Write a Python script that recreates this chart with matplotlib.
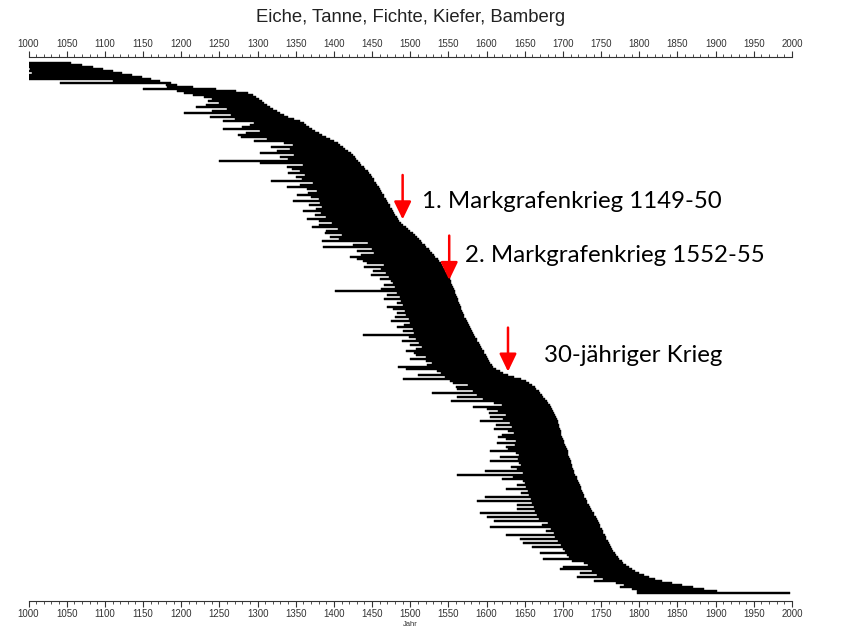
import numpy as np
import matplotlib.pyplot as plt
from matplotlib.ticker import MultipleLocator

plt.rcParams['font.family'] = ['Liberation Sans', 'DejaVu Sans']

# end year of every sample (rows sorted by end year, top to bottom)
ende = [
    1055, 1070, 1085, 1098, 1110, 1122, 1135, 1148, 1160, 1172,
    1186, 1194, 1215, 1245, 1272, 1288, 1294, 1298, 1302, 1306,
    1309, 1312, 1316, 1320, 1325, 1330, 1334, 1340, 1348, 1356,
    1361, 1364, 1368, 1371, 1375, 1380, 1385, 1390, 1395, 1400,
    1405, 1408, 1412, 1415, 1418, 1422, 1425, 1427, 1429, 1432,
    1434, 1436, 1439, 1441, 1444, 1446, 1448, 1450, 1452, 1453,
    1455, 1457, 1459, 1460, 1462, 1463, 1465, 1466, 1468, 1470,
    1471, 1473, 1474, 1476, 1478, 1479, 1480, 1482, 1484, 1485,
    1488, 1491, 1494, 1497, 1500, 1503, 1506, 1509, 1511, 1514,
    1516, 1519, 1521, 1524, 1526, 1529, 1531, 1533, 1536, 1538,
    1540, 1542, 1543, 1545, 1546, 1548, 1549, 1550, 1552, 1553,
    1554, 1555, 1556, 1557, 1558, 1559, 1560, 1561, 1562, 1563,
    1564, 1565, 1566, 1567, 1568, 1569, 1570, 1571, 1573, 1574,
    1575, 1577, 1578, 1580, 1581, 1582, 1584, 1585, 1587, 1588,
    1590, 1591, 1593, 1594, 1596, 1597, 1599, 1600, 1602, 1603,
    1605, 1607, 1609, 1612, 1617, 1622, 1628, 1636, 1645, 1652,
    1656, 1660, 1663, 1665, 1668, 1670, 1672, 1674, 1677, 1679,
    1681, 1683, 1684, 1686, 1687, 1688, 1690, 1691, 1692, 1693,
    1694, 1695, 1695, 1696, 1697, 1697, 1698, 1699, 1700, 1701,
    1702, 1703, 1704, 1705, 1706, 1706, 1707, 1708, 1709, 1710,
    1711, 1712, 1712, 1713, 1714, 1715, 1716, 1718, 1719, 1720,
    1721, 1722, 1723, 1724, 1725, 1726, 1727, 1728, 1730, 1731,
    1732, 1734, 1735, 1737, 1738, 1740, 1741, 1743, 1744, 1746,
    1747, 1748, 1749, 1751, 1752, 1753, 1755, 1756, 1757, 1759,
    1760, 1761, 1763, 1764, 1766, 1768, 1770, 1772, 1774, 1777,
    1779, 1782, 1786, 1790, 1795, 1800, 1806, 1813, 1820, 1830,
    1843, 1856, 1870, 1885, 1902, 1998,
]

# first year of every sample
beginn = [
    1000, 1000, 1000, 1002, 1000, 1005, 1000, 1000, 1000, 1110,
    1041, 1180, 1182, 1150, 1195, 1203, 1215, 1230, 1240, 1235,
    1250, 1232, 1220, 1260, 1240, 1203, 1265, 1238, 1270, 1255,
    1295, 1290, 1280, 1255, 1303, 1285, 1275, 1278, 1312, 1295,
    1335, 1347, 1318, 1342, 1325, 1303, 1348, 1330, 1340, 1250,
    1303, 1360, 1338, 1345, 1355, 1340, 1362, 1350, 1358, 1318,
    1372, 1355, 1338, 1365, 1378, 1366, 1352, 1370, 1380, 1347,
    1382, 1368, 1385, 1376, 1360, 1383, 1375, 1390, 1365, 1380,
    1398, 1380, 1371, 1405, 1390, 1388, 1410, 1395, 1406, 1385,
    1445, 1425, 1386, 1450, 1430, 1452, 1435, 1421, 1430, 1438,
    1443, 1465, 1440, 1462, 1451, 1468, 1448, 1472, 1460, 1475,
    1478, 1465, 1480, 1462, 1401, 1483, 1470, 1486, 1465, 1488,
    1482, 1490, 1470, 1478, 1493, 1482, 1495, 1480, 1498, 1475,
    1500, 1492, 1482, 1503, 1490, 1505, 1438, 1498, 1508, 1489,
    1512, 1500, 1515, 1508, 1495, 1505, 1508, 1520, 1500, 1521,
    1528, 1522, 1484, 1495, 1535, 1540, 1510, 1545, 1491, 1552,
    1556, 1575, 1560, 1561, 1582, 1528, 1588, 1561, 1595, 1554,
    1610, 1620, 1582, 1600, 1615, 1603, 1625, 1605, 1622, 1591,
    1630, 1612, 1633, 1610, 1628, 1636, 1620, 1615, 1625, 1638,
    1614, 1637, 1625, 1628, 1604, 1638, 1642, 1618, 1641, 1604,
    1643, 1645, 1632, 1640, 1598, 1647, 1561, 1635, 1620, 1648,
    1650, 1640, 1652, 1625, 1654, 1645, 1656, 1598, 1658, 1587,
    1660, 1640, 1662, 1640, 1664, 1591, 1666, 1600, 1668, 1610,
    1680, 1672, 1604, 1684, 1678, 1688, 1626, 1690, 1644, 1693,
    1648, 1698, 1660, 1700, 1703, 1670, 1705, 1708, 1674, 1712,
    1728, 1733, 1700, 1696, 1738, 1722, 1744, 1718, 1752, 1740,
    1770, 1780, 1775, 1790, 1797, 1797,
]

# annotations: text, text position (year, row), arrow x, arrow top row, arrow tip row
ereignisse = ['1. Markgrafenkrieg 1149-50', '2. Markgrafenkrieg 1552-55', '30-jähriger Krieg']
text_x = [1515, 1572, 1675]
text_y = [69.5, 96.5, 146]
pfeil_x = [1490, 1551, 1628]
pfeil_oben = [56, 86.3, 132.3]
pfeil_spitze = [78.2, 108.5, 154.3]

beginn = np.array(beginn)
ende = np.array(ende)
zeilen = np.arange(len(ende))

fig = plt.figure(figsize=(8.44, 6.31), dpi=100)
ax = fig.add_axes([0.0338, 0.0475, 0.9046, 0.8622])

ax.barh(zeilen, ende - beginn, left=beginn, height=1.0,
        color='black', edgecolor='black', linewidth=0.3)

ax.set_xlim(1000, 2000)
ax.set_ylim(269, -3)

for s in ['left', 'right']:
    ax.spines[s].set_visible(False)
for s in ['top', 'bottom']:
    ax.spines[s].set_linewidth(0.8)
    ax.spines[s].set_color('#333333')

ax.set_yticks([])
ax.xaxis.set_major_locator(MultipleLocator(50))
ax.xaxis.set_minor_locator(MultipleLocator(10))
ax.tick_params(axis='x', which='both', top=True, bottom=True, labeltop=True,
               labelbottom=True, direction='out', colors='#333333')
ax.tick_params(axis='x', which='major', length=4, width=0.8, pad=2, labelsize=7)
ax.tick_params(axis='x', which='minor', length=2, width=0.6)
ax.set_xlabel('Jahr', fontsize=5.5, labelpad=1, color='#333333')

fig.text(0.486, 1 - 18 / 631, 'Eiche, Tanne, Fichte, Kiefer, Bamberg',
         ha='center', va='center', fontsize=13.3, color='#222222')

for t, tx, ty, px, p0, p1 in zip(ereignisse, text_x, text_y, pfeil_x, pfeil_oben, pfeil_spitze):
    ax.annotate('', xy=(px, p1), xytext=(px, p0),
                arrowprops=dict(arrowstyle='-|>,head_length=10.8,head_width=5.2',
                                mutation_scale=1, color='red', lw=1.8,
                                shrinkA=0, shrinkB=0))
    ax.text(tx, ty, t, ha='left', va='center', fontsize=17.3,
            family=['Lato', 'DejaVu Sans'], color='black')

fig.savefig('out.png', dpi=100)
